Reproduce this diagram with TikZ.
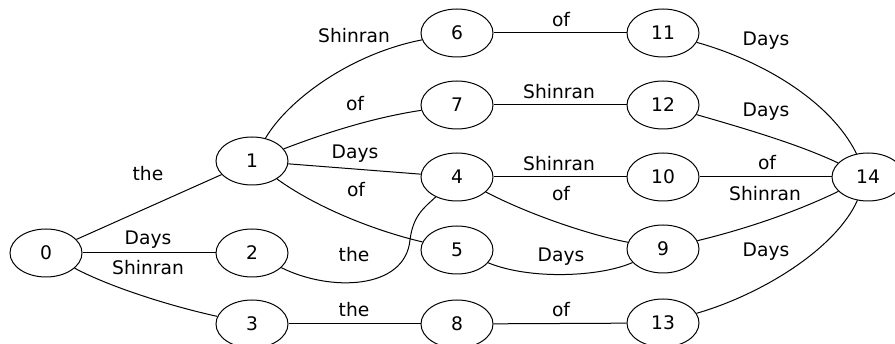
\documentclass[tikz,border=0pt]{standalone}
\usepackage{fontspec}
\setmainfont{DejaVu Sans}
\usetikzlibrary{shapes.geometric}
\begin{document}
\begin{tikzpicture}[x=1pt,y=-1pt,
  st/.style={ellipse,draw,line width=1pt,inner sep=0pt,
             minimum width=72pt,minimum height=48pt,
             font=\fontsize{18.67}{22}\selectfont},
  lbl/.style={anchor=base,inner sep=0pt,font=\fontsize{18.67}{22}\selectfont},
  edge/.style={line width=1pt}]
\useasboundingbox (0,0) rectangle (895,344);
\clip (0,0) rectangle (895,344);

% states
\node[st] (n0)  at (46,253)  {0};
\node[st] (n1)  at (252,161) {1};
\node[st] (n2)  at (252,253) {2};
\node[st] (n3)  at (252,324) {3};
\node[st] (n6)  at (457,33)  {6};
\node[st] (n7)  at (457,105) {7};
\node[st] (n4)  at (457,177) {4};
\node[st] (n5)  at (457,250) {5};
\node[st] (n8)  at (457,324) {8};
\node[st] (n11) at (663,33)  {11};
\node[st] (n12) at (663,105) {12};
\node[st] (n10) at (663,177) {10};
\node[st] (n9)  at (663,249) {9};
\node[st] (n13) at (663,323) {13};
\node[st] (n14) at (868,177) {14};

% transitions
\draw[edge] (n0) -- (n1);
\draw[edge] (n0) -- (n2);
\draw[edge] (n0) .. controls (110,287) and (170,306) .. (n3);
\draw[edge] (n1) .. controls (288,100) and (350,54) .. (n6);
\draw[edge] (n1) .. controls (320,135) and (370,118) .. (n7);
\draw[edge] (n1) -- (n4);
\draw[edge] (n1) .. controls (320,210) and (380,232) .. (n5);
\draw[edge] (n2) .. controls (330,292) and (405,290) .. (410,240)
                 .. controls (413,215) and (425,207) .. (n4);
\draw[edge] (n3) -- (n8);
\draw[edge] (n6) -- (n11);
\draw[edge] (n7) -- (n12);
\draw[edge] (n4) -- (n10);
\draw[edge] (n4) .. controls (530,215) and (590,235) .. (n9);
\draw[edge] (n5) .. controls (530,280) and (600,277) .. (n9);
\draw[edge] (n8) -- (n13);
\draw[edge] (n11) .. controls (760,60) and (830,100) .. (n14);
\draw[edge] (n12) .. controls (750,130) and (800,145) .. (n14);
\draw[edge] (n10) -- (n14);
\draw[edge] (n9) .. controls (750,228) and (800,210) .. (n14);
\draw[edge] (n13) .. controls (760,295) and (835,250) .. (n14);

% transition labels
\node[lbl] (l01)   at (148,181) {the};
\node[lbl] (l02)   at (148,245) {Days};
\node[lbl] (l03)   at (148,275) {Shinran};
\node[lbl] (l16)   at (354,43)  {Shinran};
\node[lbl] (l17)   at (355,111) {of};
\node[lbl] (l14)   at (355,159) {Days};
\node[lbl] (l15)   at (356,197) {of};
\node[lbl] (l24)   at (354,262) {the};
\node[lbl] (l38)   at (354,317) {the};
\node[lbl] (l611)  at (561,27)  {of};
\node[lbl] (l712)  at (559,99)  {Shinran};
\node[lbl] (l410)  at (559,171) {Shinran};
\node[lbl] (l49)   at (561,201) {of};
\node[lbl] (l59)   at (561,262) {Days};
\node[lbl] (l813)  at (561,317) {of};
\node[lbl] (l1114) at (766,46)  {Days};
\node[lbl] (l1214) at (766,117) {Days};
\node[lbl] (l1014) at (767,170) {of};
\node[lbl] (l914)  at (765,201) {Shinran};
\node[lbl] (l1314) at (766,257) {Days};
\end{tikzpicture}
\end{document}
